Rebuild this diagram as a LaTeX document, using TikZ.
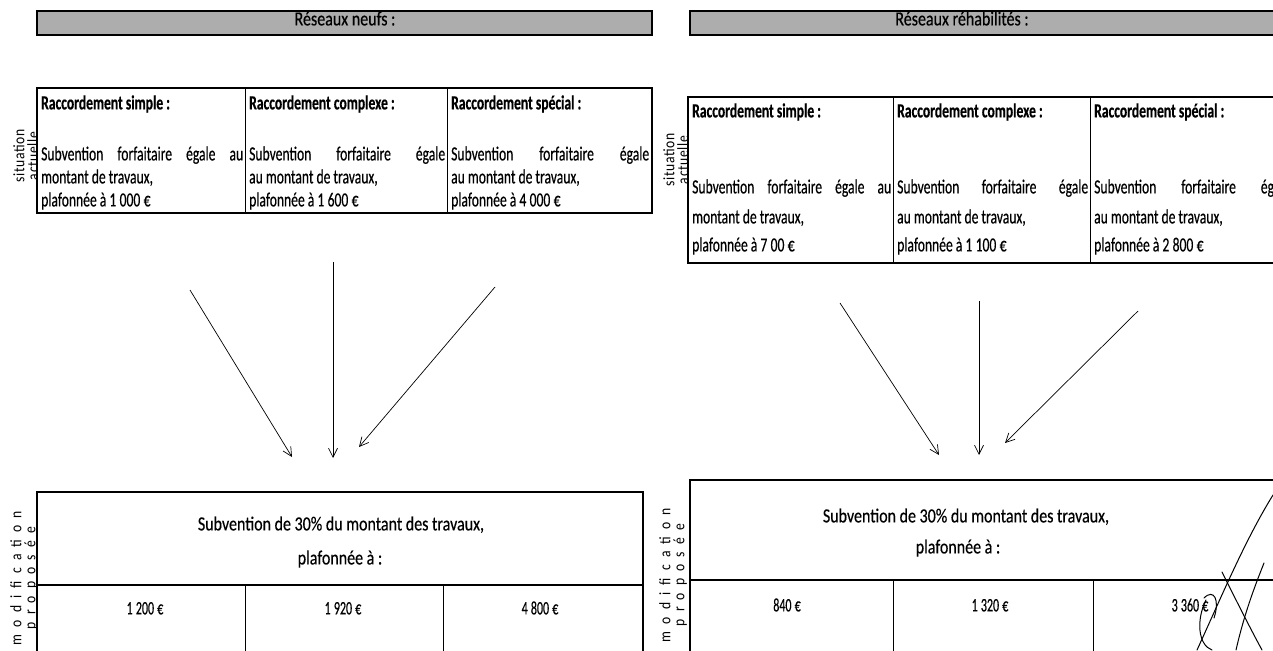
\documentclass[tikz,border=0pt]{standalone}
\usepackage{fontspec}
\setmainfont{Carlito}
\newfontfamily\cf[FakeStretch=0.68,FakeBold=0.4]{Carlito}
\newfontfamily\cfw[FakeStretch=0.8,FakeBold=0.4]{Carlito}
\newfontfamily\cfn[FakeStretch=0.63,FakeBold=0.4]{Carlito}
\newfontfamily\lbl[FakeStretch=0.85]{Carlito}
\usetikzlibrary{arrows.meta}
\begin{document}
\begin{tikzpicture}[x=1pt,y=-1pt,
  every node/.style={inner sep=0pt},
  hdrtext/.style={anchor=mid, font=\cfw\fontsize{20}{24}\selectfont},
  bar/.style={draw=black, line width=1.4pt, fill=black!32},
  cell/.style={anchor=mid west, font=\cf\fontsize{20}{24}\selectfont},
  head/.style={anchor=mid west, font=\cf\bfseries\fontsize{20}{24}\selectfont},
  ctr/.style={anchor=mid, font=\cfw\fontsize{20}{24}\selectfont},
  val/.style={anchor=mid, font=\cfn\fontsize{19}{23}\selectfont},
  frame/.style={line width=1.6pt},
  sep/.style={line width=1pt},
  arr/.style={line width=0.7pt, -{Straight Barb[length=9pt,width=9pt]}},
  vlab/.style={rotate=90, anchor=mid, font=\lbl\fontsize{16}{19}\selectfont},
  sig/.style={line width=1pt, line cap=round}]
\useasboundingbox (0,0) rectangle (1273,650);
\clip (0,0) rectangle (1273,650);
\fill[white] (0,0) rectangle (1273,650);

% header bars
\draw[bar] (37,11) rectangle (652,35);
\node[hdrtext] (hl) at (345,23) {Réseaux neufs :};
\draw[bar] (690,11) rectangle (1290,35);
\node[hdrtext] (hr) at (962,23) {Réseaux réhabilités :};

% ---------- left top table
\draw[frame] (37,88) rectangle (652,213);
\draw[sep] (245,88) -- (245,213);
\draw[sep] (447,88) -- (447,213);
\node[head] (l1h) at (41,107) {Raccordement simple :};
\node[head] (l2h) at (249,107) {Raccordement complexe :};
\node[head] (l3h) at (451,107) {Raccordement spécial :};
\node[cell] (l1a) at (41,158) {\makebox[202pt][s]{Subvention forfaitaire égale au}};
\node[cell] (l1b) at (41,181) {montant de travaux,};
\node[cell] (l1c) at (41,204) {plafonnée à 1\,000\,€};
\node[cell] (l2a) at (249,158) {\makebox[196pt][s]{Subvention forfaitaire égale}};
\node[cell] (l2b) at (249,181) {au montant de travaux,};
\node[cell] (l2c) at (249,204) {plafonnée à 1\,600\,€};
\node[cell] (l3a) at (451,158) {\makebox[198pt][s]{Subvention forfaitaire égale}};
\node[cell] (l3b) at (451,181) {au montant de travaux,};
\node[cell] (l3c) at (451,204) {plafonnée à 4\,000\,€};

% ---------- right top table
\draw[frame] (688,97) rectangle (1290,263);
\draw[sep] (893,97) -- (893,263);
\draw[sep] (1090,97) -- (1090,263);
\node[head] (r1h) at (692,115) {Raccordement simple :};
\node[head] (r2h) at (897,115) {Raccordement complexe :};
\node[head] (r3h) at (1094,115) {Raccordement spécial :};
\node[cell] (r1a) at (692,191) {\makebox[199pt][s]{Subvention forfaitaire égale au}};
\node[cell] (r1b) at (692,221) {montant de travaux,};
\node[cell] (r1c) at (692,249) {plafonnée à 7\,00\,€};
\node[cell] (r2a) at (897,191) {\makebox[191pt][s]{Subvention forfaitaire égale}};
\node[cell] (r2b) at (897,221) {au montant de travaux,};
\node[cell] (r2c) at (897,249) {plafonnée à 1\,100\,€};
\node[cell] (r3a) at (1094,191) {\makebox[196pt][s]{Subvention forfaitaire égale}};
\node[cell] (r3b) at (1094,221) {au montant de travaux,};
\node[cell] (r3c) at (1094,249) {plafonnée à 2\,800\,€};

% ---------- arrows
\coordinate (a1s) at (190,290); \coordinate (a1e) at (292,457);
\coordinate (a2s) at (333,262); \coordinate (a2e) at (333,458);
\coordinate (a3s) at (495,287); \coordinate (a3e) at (359,447);
\draw[arr] (a1s) -- (a1e);
\draw[arr] (a2s) -- (a2e);
\draw[arr] (a3s) -- (a3e);
\coordinate (b1s) at (840,303); \coordinate (b1e) at (939,455);
\coordinate (b2s) at (979,301); \coordinate (b2e) at (979,455);
\coordinate (b3s) at (1138,311); \coordinate (b3e) at (1005,443);
\draw[arr] (b1s) -- (b1e);
\draw[arr] (b2s) -- (b2e);
\draw[arr] (b3s) -- (b3e);

% ---------- left bottom table
\draw[frame] (37,492) rectangle (643,700);
\draw[frame] (37,585) -- (643,585);
\draw[sep] (245,585) -- (245,700);
\draw[sep] (443,585) -- (443,700);
\node[ctr] (lm1) at (341,528) {Subvention de 30\% du montant des travaux,};
\node[ctr] (lm2) at (340,562) {plafonnée à :};
\node[val] (lv1) at (145,612) {1\,200\,€};
\node[val] (lv2) at (343,612) {1\,920\,€};
\node[val] (lv3) at (540,612) {4\,800\,€};

% ---------- right bottom table
\draw[frame] (690,480) rectangle (1290,700);
\draw[frame] (690,580) -- (1290,580);
\draw[sep] (893,580) -- (893,700);
\draw[sep] (1093,580) -- (1093,700);
\node[ctr] (rm1) at (966,520) {Subvention de 30\% du montant des travaux,};
\node[ctr] (rm2) at (958,551) {plafonnée à :};
\node[val] (rv1) at (787,609) {840\,€};
\node[val] (rv2) at (990,609) {1\,320\,€};
\node[val] (rv3) at (1190,609) {3\,360\,€};

% ---------- side labels
\begin{scope}
\clip (0,0) rectangle (37,650);
\node[vlab] (sl1) at (22,156) {\addfontfeature{LetterSpace=4}situation};
\node[vlab] (sl2) at (36,156) {\addfontfeature{LetterSpace=4}actuelle};
\node[vlab] (ml1) at (19,578) {\addfontfeature{LetterSpace=45}modification};
\node[vlab] (ml2) at (33,578) {\addfontfeature{LetterSpace=45}proposée};
\end{scope}
\begin{scope}
\clip (650,0) rectangle (688,650);
\node[vlab] (sr1) at (672,160) {\addfontfeature{LetterSpace=4}situation};
\node[vlab] (sr2) at (686,160) {\addfontfeature{LetterSpace=4}actuelle};
\end{scope}
\begin{scope}
\clip (650,300) rectangle (690,650);
\node[vlab] (mr1) at (668,575) {\addfontfeature{LetterSpace=45}modification};
\node[vlab] (mr2) at (682,575) {\addfontfeature{LetterSpace=45}proposée};
\end{scope}

% ---------- handwritten mark
\draw[sig] (1197,650) .. controls (1220,600) and (1245,540) .. (1273,495);
\draw[sig] (1206,600) .. controls (1196,620) and (1198,645) .. (1212,650);
\draw[sig] (1204,598) .. controls (1214,588) and (1220,600) .. (1214,618);
\draw[sig] (1222,572) .. controls (1236,600) and (1250,628) .. (1262,650);
\draw[sig] (1236,650) .. controls (1244,615) and (1254,588) .. (1264,563);
\end{tikzpicture}
\end{document}
